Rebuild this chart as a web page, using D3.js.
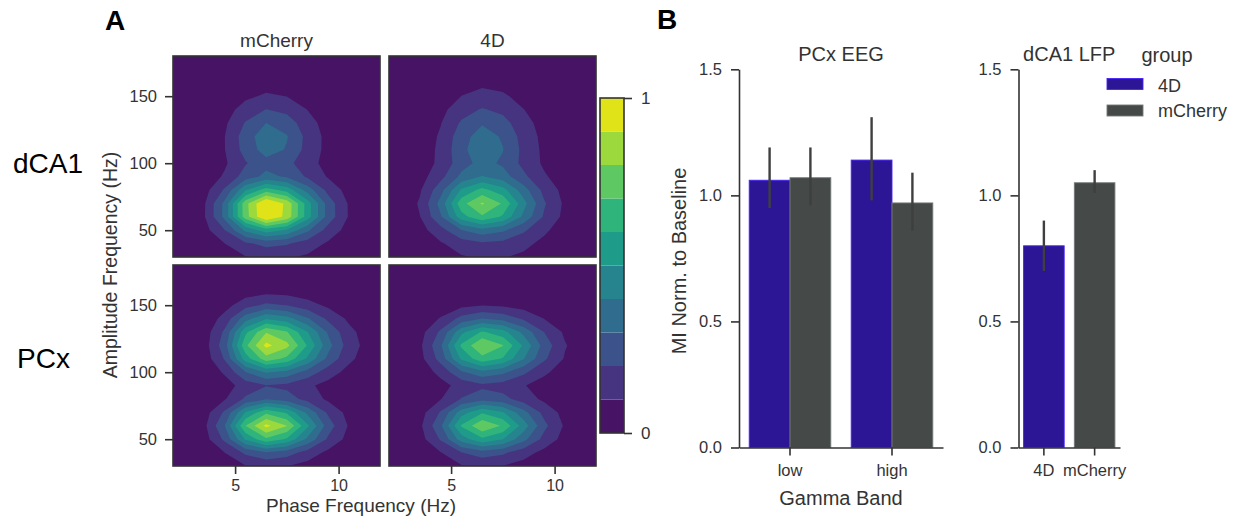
<!DOCTYPE html>
<html>
<head>
<meta charset="utf-8">
<script src="https://cdn.jsdelivr.net/npm/d3@7"></script>
<style>
  body { margin: 0; background: #fff; }
  text { font-family: "Liberation Sans", Arial, sans-serif; }
</style>
</head>
<body>
<svg id="fig" width="1241" height="523"></svg>
<script>
// ---- panel A data: comodulogram peaks
// each peak: [phaseHz, ampHz, sdPhaseLeft, sdPhaseRight, sdAmpBelow, sdAmpAbove, height]
const dca1Mcherry = [
  [6.5, 65, 1.3, 1.75, 11.5, 14, 1.0],
  [6.6, 117, 1.2, 1.4, 14, 20, 0.3],
  [6.8, 95, 2.0, 2.2, 45, 45, 0.08],
  [6.8, 40, 2.0, 2.2, 15, 15, 0.1]
];
const dca14D = [
  [6.4, 68, 1.4, 1.8, 12, 15, 0.72],
  [6.5, 114, 1.2, 1.4, 14, 23, 0.27],
  [6.8, 95, 2.1, 2.3, 50, 50, 0.1],
  [6.8, 40, 2.0, 2.2, 15, 15, 0.08]
];
const pcxMcherry = [
  [6.5, 120, 1.25, 2.1, 15.5, 17.7, 0.93],
  [6.5, 60, 1.33, 1.85, 12, 12.5, 0.92],
  [6.5, 28, 1.6, 1.8, 15, 15, 0.08]
];
const pcx4D = [
  [6.5, 119, 1.4, 2.0, 15, 15, 0.8],
  [6.5, 60, 1.4, 1.9, 12, 13, 0.78],
  [6.5, 28, 1.6, 1.8, 15, 15, 0.08]
];
const heatRowsData = [[dca1Mcherry, dca14D], [pcxMcherry, pcx4D]];
const regionNames = ["dCA1", "PCx"];
const groupTitles = ["mCherry", "4D"];
const levels = [0.1, 0.2, 0.3, 0.4, 0.5, 0.6, 0.7, 0.8, 0.9];

// ---- panel B data: MI normalized to baseline, mean and 95% CI
const bands = ["low", "high"];
const groups = ["4D", "mCherry"];
const pcxMean4D = [1.06, 1.14];
const pcxMeanMch = [1.07, 0.97];
const pcxCi4D = [[0.95, 1.19], [0.98, 1.31]];
const pcxCiMch = [[0.96, 1.19], [0.86, 1.09]];
const dca1Mean = [0.80, 1.05];
const dca1Ci = [[0.70, 0.90], [1.01, 1.10]];
const groupColors = ["#2c1696", "#454a49"];

const svg = d3.select("#fig");
const ink = "#333";

// ================= panel A =================
const heatW = 207, heatH = 201;
const heatCols = [173, 389], heatRows = [56, 265];
const fx = d3.scaleLinear().domain([2, 12]).range([0, heatW]);
const fy = d3.scaleLinear().domain([30, 180]).range([heatH, 0]);
// sampling grid of the comodulogram (phase step 1 Hz, amplitude step 10 Hz)
const f0 = 1.5, fStep = 1, a0 = 30, aStep = 10;
const gridF = d3.range(f0, 12.51, fStep), gridA = d3.range(a0, 180.01, aStep);
const colorOf = i => d3.interpolateViridis((i + 0.5) / 10);

function field(peaks) {
  const vals = [];
  gridA.forEach(a => gridF.forEach(f => {
    let v = 0;
    peaks.forEach(([pf, pa, sl, sr, sd, su, h]) => {
      const dx = (f - pf) / (f < pf ? sl : sr);
      const dy = (a - pa) / (a < pa ? sd : su);
      v += h * Math.exp(-0.5 * (dx * dx + dy * dy));
    });
    vals.push(v);
  }));
  return vals;
}

const gridPath = d3.geoPath(d3.geoTransform({
  point: function(gx, gy) {
    this.stream.point(fx(f0 + (gx - 0.5) * fStep), fy(a0 + (gy - 0.5) * aStep));
  }
}));

heatRowsData.forEach((row, r) => {
  row.forEach((peaks, c) => {
    const g = svg.append("g").attr("transform", `translate(${heatCols[c]},${heatRows[r]})`);
    const id = `clip${r}${c}`;
    g.append("clipPath").attr("id", id).append("rect").attr("width", heatW).attr("height", heatH);
    const body = g.append("g").attr("clip-path", `url(#${id})`);
    body.append("rect").attr("width", heatW).attr("height", heatH).attr("fill", colorOf(0));
    const contours = d3.contours().size([gridF.length, gridA.length]).thresholds(levels)(field(peaks));
    body.selectAll("path").data(contours).enter().append("path")
      .attr("d", gridPath)
      .attr("fill", (d, i) => colorOf(i + 1));
    g.append("rect").attr("width", heatW).attr("height", heatH)
      .attr("fill", "none").attr("stroke", ink).attr("stroke-width", 1.6);

    if (c === 0) {
      const ax = g.append("g").call(d3.axisLeft(fy).tickValues([50, 100, 150]).tickSize(8).tickPadding(8));
      ax.select(".domain").remove();
      ax.selectAll("line").attr("stroke", ink).attr("stroke-width", 1.6);
      ax.selectAll("text").attr("font-size", 16.5).attr("fill", ink).attr("font-family", "Liberation Sans, Arial, sans-serif");
    }
    if (r === 1) {
      const ax = g.append("g").attr("transform", `translate(0,${heatH})`)
        .call(d3.axisBottom(fx).tickValues([5, 10]).tickSize(8).tickPadding(6));
      ax.select(".domain").remove();
      ax.selectAll("line").attr("stroke", ink).attr("stroke-width", 1.6);
      ax.selectAll("text").attr("font-size", 16).attr("fill", ink).attr("font-family", "Liberation Sans, Arial, sans-serif");
    }
    if (r === 0) {
      g.append("text").attr("x", heatW / 2).attr("y", -9).attr("text-anchor", "middle")
        .attr("font-size", 19).attr("fill", ink).text(groupTitles[c]);
    }
  });
  svg.append("text").attr("x", r === 0 ? 13 : 17).attr("y", r === 0 ? 173 : 368)
    .attr("font-size", 28).attr("fill", "#000").text(regionNames[r]);
});

// colorbar
const cbX = 600, cbW = 24;
const cbY = d3.scaleLinear().domain([0, 1]).range([433, 98]);
const cb = svg.append("g");
cb.selectAll("rect").data(d3.range(10)).enter().append("rect")
  .attr("x", cbX).attr("width", cbW)
  .attr("y", d => cbY((d + 1) / 10)).attr("height", d => cbY(d / 10) - cbY((d + 1) / 10))
  .attr("fill", d => colorOf(d));
cb.append("rect").attr("x", cbX).attr("y", cbY(1)).attr("width", cbW).attr("height", cbY(0) - cbY(1))
  .attr("fill", "none").attr("stroke", ink).attr("stroke-width", 1.6);
const cbAx = svg.append("g").attr("transform", `translate(${cbX + cbW},0)`)
  .call(d3.axisRight(cbY).tickValues([0, 1]).tickFormat(d3.format("d")).tickSize(8).tickPadding(9));
cbAx.select(".domain").remove();
cbAx.selectAll("line").attr("stroke", ink).attr("stroke-width", 1.6);
cbAx.selectAll("text").attr("font-size", 17).attr("fill", ink).attr("font-family", "Liberation Sans, Arial, sans-serif");

svg.append("text").attr("transform", "translate(117,265) rotate(-90)").attr("text-anchor", "middle")
  .attr("font-size", 19.5).attr("fill", ink).text("Amplitude Frequency (Hz)");
svg.append("text").attr("x", 361).attr("y", 512).attr("text-anchor", "middle")
  .attr("font-size", 19).attr("fill", ink).text("Phase Frequency (Hz)");

// ================= panel B =================
const by = d3.scaleLinear().domain([0, 1.5]).range([447.5, 69.3]);

function styleAxis(ax) {
  ax.select(".domain").attr("stroke", ink).attr("stroke-width", 1.6);
  ax.selectAll("line").attr("stroke", ink).attr("stroke-width", 1.6);
  ax.selectAll("text").attr("font-size", 16.5).attr("fill", ink).attr("font-family", "Liberation Sans, Arial, sans-serif");
}

function drawBar(g, x, w, mean, ci, color) {
  g.append("rect").attr("x", x).attr("width", w)
    .attr("y", by(mean)).attr("height", by(0) - by(mean))
    .attr("fill", color).attr("stroke", d3.color(color).brighter(1.4)).attr("stroke-width", 0.9);
  g.append("line").attr("x1", x + w / 2).attr("x2", x + w / 2)
    .attr("y1", by(ci[0])).attr("y2", by(ci[1]))
    .attr("stroke", "#3f3f3f").attr("stroke-width", 2.4);
}

function barFrame(x0, x1, cats, title) {
  const xb = d3.scaleBand().domain(cats).range([x0, x1]).paddingInner(0.2).paddingOuter(0.1);
  const g = svg.append("g");
  const yAx = g.append("g").attr("transform", `translate(${x0},0)`)
    .call(d3.axisLeft(by).tickValues([0, 0.5, 1, 1.5]).tickFormat(d3.format(".1f")).tickSize(8).tickSizeOuter(0).tickPadding(9));
  styleAxis(yAx);
  g.append("text").attr("x", (x0 + x1) / 2).attr("y", 61).attr("text-anchor", "middle")
    .attr("font-size", 20).attr("fill", ink).text(title);
  return { g, xb };
}

// PCx EEG
const pcx = barFrame(739, 943, bands, "PCx EEG");
const sub = d3.scaleBand().domain(groups).range([0, pcx.xb.bandwidth()]);
const pcxMeans = [pcxMean4D, pcxMeanMch], pcxCis = [pcxCi4D, pcxCiMch];
bands.forEach((b, i) => {
  groups.forEach((gr, k) => {
    drawBar(pcx.g, pcx.xb(b) + sub(gr), sub.bandwidth(), pcxMeans[k][i], pcxCis[k][i], groupColors[k]);
  });
});
styleAxis(pcx.g.append("g").attr("transform", `translate(0,${by(0)})`)
  .call(d3.axisBottom(pcx.xb).tickSize(8).tickSizeOuter(0).tickPadding(9)));
svg.append("text").attr("transform", "translate(686,261) rotate(-90)").attr("text-anchor", "middle")
  .attr("font-size", 20).attr("fill", ink).text("MI Norm. to Baseline");
svg.append("text").attr("x", 841).attr("y", 505).attr("text-anchor", "middle")
  .attr("font-size", 20).attr("fill", ink).text("Gamma Band");

// dCA1 LFP
const dca = barFrame(1018.5, 1120, groups, "dCA1 LFP");
groups.forEach((gr, k) => {
  drawBar(dca.g, dca.xb(gr), dca.xb.bandwidth(), dca1Mean[k], dca1Ci[k], groupColors[k]);
});
styleAxis(dca.g.append("g").attr("transform", `translate(0,${by(0)})`)
  .call(d3.axisBottom(dca.xb).tickSize(8).tickSizeOuter(0).tickPadding(9)));

// legend
const leg = svg.append("g");
leg.append("text").attr("x", 1167).attr("y", 62).attr("text-anchor", "middle")
  .attr("font-size", 20).attr("fill", ink).text("group");
groups.forEach((gr, k) => {
  leg.append("rect").attr("x", 1107).attr("y", 78.5 + k * 26.5).attr("width", 36).attr("height", 11)
    .attr("fill", groupColors[k]).attr("stroke", d3.color(groupColors[k]).brighter(1.4)).attr("stroke-width", 0.9);
  leg.append("text").attr("x", 1158).attr("y", 91.5 + k * 25).attr("font-size", 18).attr("fill", ink).text(gr);
});

// panel letters
svg.append("text").attr("x", 105).attr("y", 30).attr("font-size", 28).attr("font-weight", "bold").attr("fill", "#000").text("A");
svg.append("text").attr("x", 657).attr("y", 29).attr("font-size", 28).attr("font-weight", "bold").attr("fill", "#000").text("B");
</script>
</body>
</html>
